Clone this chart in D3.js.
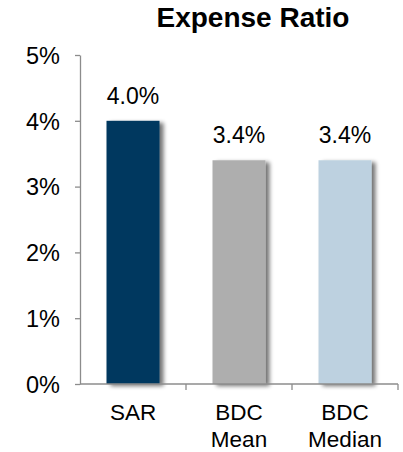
<!DOCTYPE html>
<html><head><meta charset="utf-8">
<script src="https://cdn.jsdelivr.net/npm/d3@7"></script>
<style>body{margin:0;background:#fff}svg{display:block}text{font-family:"Liberation Sans",Arial,sans-serif}</style>
</head><body>
<script>
const categories = [["SAR"], ["BDC", "Mean"], ["BDC", "Median"]];
const values = [4.0, 3.4, 3.4];
const colors = ["#03375E", "#AEAEAE", "#BDD1E0"];
const yTicks = [0, 1, 2, 3, 4, 5];
const title = "Expense Ratio";

const W = 403, H = 452;
const svg = d3.select("body").append("svg").attr("width", W).attr("height", H);
const defs = svg.append("defs");
const f = defs.append("filter").attr("id", "sh").attr("x", "-20%").attr("y", "-10%").attr("width", "160%").attr("height", "120%");
f.append("feGaussianBlur").attr("in", "SourceAlpha").attr("stdDeviation", 2.2).attr("result", "b");
f.append("feOffset").attr("in", "b").attr("dx", 4).attr("dy", 2).attr("result", "o");
f.append("feComponentTransfer").attr("in", "o").attr("result", "o2").append("feFuncA").attr("type", "linear").attr("slope", 0.55);
const m = f.append("feMerge");
m.append("feMergeNode").attr("in", "o2");
m.append("feMergeNode").attr("in", "SourceGraphic");

const x = d3.scaleBand().domain(d3.range(categories.length)).range([80, 398]).paddingInner(0.5).paddingOuter(0.25);
const y = d3.scaleLinear().domain([0, 5]).range([384, 55]);

svg.append("text").attr("x", 253).attr("y", 27).attr("text-anchor", "middle")
  .attr("font-size", 28).attr("font-weight", "bold").attr("fill", "#000").text(title);

// bars
svg.selectAll("rect.bar").data(values).join("rect").attr("class", "bar")
  .attr("x", (d, i) => x(i)).attr("width", x.bandwidth())
  .attr("y", d => y(d)).attr("height", d => y(0) - y(d))
  .attr("fill", (d, i) => colors[i]).attr("filter", "url(#sh)");

// value labels
svg.selectAll("text.val").data(values).join("text").attr("class", "val")
  .attr("x", (d, i) => x(i) + x.bandwidth() / 2).attr("y", d => y(d) - 17)
  .attr("text-anchor", "middle").attr("font-size", 23).attr("fill", "#000")
  .text(d => d.toFixed(1) + "%");

// y axis
const yAxis = d3.axisLeft(y).tickValues(yTicks).tickFormat(d => d + "%").tickSize(5).tickSizeOuter(0).tickPadding(15);
const gy = svg.append("g").attr("transform", "translate(80,0)").call(yAxis);
gy.select(".domain").attr("stroke", "#8c8c8c").attr("stroke-width", 1.3);
gy.selectAll(".tick line").attr("stroke", "#8c8c8c").attr("stroke-width", 1.3);
gy.selectAll(".tick text").attr("font-size", 23.5).attr("fill", "#000").attr("dy", "0.35em");

// x axis
const xb = d3.scaleLinear().domain([0, 3]).range([80, 398]);
const gx = svg.append("g").attr("transform", "translate(0,384)");
gx.append("line").attr("x1", 80).attr("x2", 398).attr("stroke", "#8c8c8c").attr("stroke-width", 1.3);
gx.selectAll("line.t").data(d3.range(1, 4)).join("line").attr("class", "t")
  .attr("x1", d => xb(d)).attr("x2", d => xb(d)).attr("y1", 0).attr("y2", 6)
  .attr("stroke", "#8c8c8c").attr("stroke-width", 1.3);

const cl = svg.selectAll("text.cat").data(categories).join("text").attr("class", "cat")
  .attr("text-anchor", "middle").attr("font-size", 22.5).attr("fill", "#000")
  .attr("transform", (d, i) => `translate(${x(i) + x.bandwidth() / 2},420)`);
cl.selectAll("tspan").data(d => d).join("tspan").attr("x", 0).attr("dy", (d, j) => j ? 27 : 0).text(d => d);
</script>
</body></html>
